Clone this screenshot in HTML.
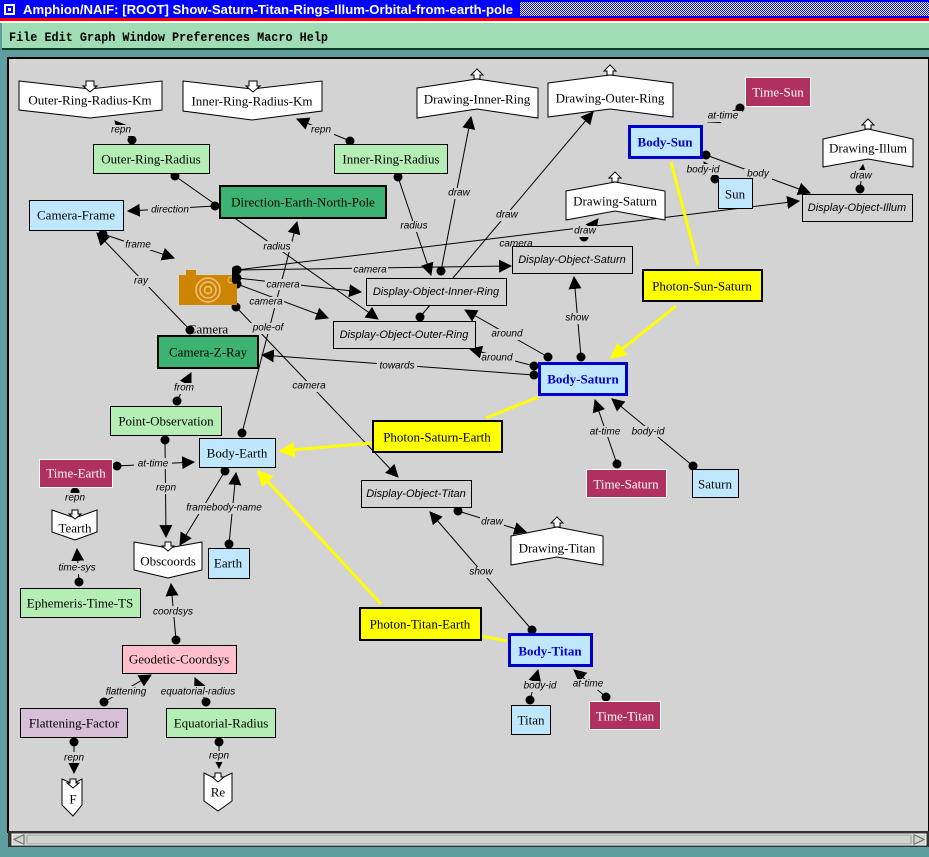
<!DOCTYPE html>
<html><head><meta charset="utf-8"><style>
html,body{margin:0;padding:0;width:929px;height:857px;overflow:hidden;background:#5f9ea0}
svg{display:block}
.n{font-family:"Liberation Serif",serif;font-size:13px;text-anchor:middle;dominant-baseline:central}
.e{font-family:"Liberation Sans",sans-serif;font-size:10px;font-style:italic;text-anchor:middle;dominant-baseline:central}
.l{stroke:#000;stroke-width:1;fill:none;marker-start:url(#dot);marker-end:url(#arr)}
.y{stroke:#ffff00;stroke-width:3;fill:none}
.g{fill:#d3d3d3;stroke:#000}
.lb{fill:#bfe8ff;stroke:#000}
.lg{fill:#b4eeb4;stroke:#000}
.mr{fill:#b03060;stroke:#fff}
.w{fill:#fff;stroke:#000}
</style></head><body>
<svg width="929" height="857" viewBox="0 0 929 857" xmlns="http://www.w3.org/2000/svg">
<defs>
<marker id="dot" viewBox="0 0 10 10" refX="5" refY="5" markerWidth="10" markerHeight="10" markerUnits="userSpaceOnUse"><circle cx="5" cy="5" r="4.5" fill="#000"/></marker>
<marker id="arr" viewBox="0 0 12 12" refX="11" refY="6" markerWidth="13" markerHeight="13" markerUnits="userSpaceOnUse" orient="auto"><path d="M0,0 L12,6 L0,12 Z" fill="#000"/></marker>
<marker id="yarr" viewBox="0 0 12 12" refX="11" refY="6" markerWidth="16" markerHeight="16" markerUnits="userSpaceOnUse" orient="auto"><path d="M0,0 L12,6 L0,12 Z" fill="#ffff00"/></marker>
<pattern id="chk" width="2" height="2" patternUnits="userSpaceOnUse"><rect width="2" height="2" fill="#fff"/><rect width="1" height="1" fill="#0000ff"/><rect x="1" y="1" width="1" height="1" fill="#0000ff"/></pattern>
</defs>
<rect x="0" y="0" width="929" height="18" fill="#0000ff"/>
<rect x="520" y="2" width="409" height="14" fill="url(#chk)"/>
<rect x="4" y="4" width="11" height="11" fill="#fff"/><rect x="6" y="6" width="7" height="7" fill="#0000ff"/><rect x="8" y="8" width="3" height="3" fill="#fff"/>
<text x="23" y="14" font-family="Liberation Sans,sans-serif" font-weight="bold" font-size="13" fill="#fff" textLength="490" lengthAdjust="spacingAndGlyphs">Amphion/NAIF: [ROOT] Show-Saturn-Titan-Rings-Illum-Orbital-from-earth-pole</text>
<rect x="0" y="18" width="929" height="3" fill="#ff0000"/>
<rect x="0" y="21" width="929" height="2" fill="#fff"/>
<rect x="2" y="23" width="927" height="25" fill="#a0dcb4"/>
<rect x="2" y="48" width="927" height="2" fill="#0a3d1e"/>
<text x="9" y="41" font-family="Liberation Mono,monospace" font-weight="bold" font-size="12.5" fill="#000" textLength="319" lengthAdjust="spacingAndGlyphs">File Edit Graph Window Preferences Macro Help</text>
<rect x="8" y="58" width="921" height="774" fill="#d3d3d3" stroke="#000" stroke-width="2"/>
<rect x="8" y="831" width="921" height="16" fill="#333"/>
<rect x="12" y="834" width="914" height="11" fill="#d3d3d3" stroke="#fff"/>
<rect x="27" y="835" width="884" height="9" fill="#d3d3d3" stroke="#999"/>
<path d="M14,839.5 L24,834.5 L24,844.5 Z" fill="#d3d3d3" stroke="#666"/>
<path d="M924,839.5 L914,834.5 L914,844.5 Z" fill="#d3d3d3" stroke="#666"/>

<line class="l" x1="132" y1="140" x2="115" y2="121"/>
<line class="l" x1="350" y1="141" x2="297" y2="119"/>
<line class="l" x1="175" y1="176" x2="378" y2="319"/>
<line class="l" x1="215" y1="206" x2="128" y2="211"/>
<line class="l" x1="398" y1="177" x2="431" y2="275"/>
<line class="l" x1="103" y1="234" x2="174" y2="258"/>
<line class="l" x1="190" y1="330" x2="97" y2="233"/>
<line class="l" x1="237" y1="270" x2="511" y2="266"/>
<line class="l" x1="237" y1="270" x2="799" y2="201"/>
<line class="l" x1="237" y1="278" x2="361" y2="292"/>
<line class="l" x1="237" y1="284" x2="328" y2="318"/>
<line class="l" x1="236" y1="307" x2="398" y2="477"/>
<line class="l" x1="242" y1="433" x2="297" y2="222"/>
<line class="l" x1="441" y1="271" x2="471" y2="117"/>
<line class="l" x1="420" y1="317" x2="593" y2="112"/>
<line class="l" x1="584" y1="237" x2="598" y2="219"/>
<line class="l" x1="548" y1="357" x2="465" y2="310"/>
<line class="l" x1="534" y1="366" x2="470" y2="349"/>
<line class="l" x1="534" y1="375" x2="262" y2="355"/>
<line class="l" x1="581" y1="357" x2="574" y2="277"/>
<line class="l" x1="617" y1="464" x2="595" y2="400"/>
<line class="l" x1="693" y1="466" x2="612" y2="399"/>
<line class="l" x1="706" y1="155" x2="810" y2="193"/>
<line class="l" x1="715" y1="179" x2="704" y2="162"/>
<line class="l" x1="740" y1="108" x2="708" y2="122"/>
<line class="l" x1="860" y1="189" x2="863" y2="165"/>
<line class="l" x1="177" y1="401" x2="191" y2="373"/>
<line class="l" x1="165" y1="440" x2="166" y2="537"/>
<line class="l" x1="117" y1="466" x2="194" y2="462"/>
<line class="l" x1="75" y1="492" x2="75" y2="490"/>
<line class="l" x1="79" y1="582" x2="77" y2="549"/>
<line class="l" x1="225" y1="471" x2="180" y2="545"/>
<line class="l" x1="229" y1="544" x2="236" y2="473"/>
<line class="l" x1="176" y1="640" x2="171" y2="584"/>
<line class="l" x1="104" y1="702" x2="151" y2="675"/>
<line class="l" x1="206" y1="702" x2="195" y2="678"/>
<line class="l" x1="74" y1="742" x2="74" y2="773"/>
<line class="l" x1="219" y1="742" x2="219" y2="768"/>
<line class="l" x1="532" y1="630" x2="430" y2="512"/>
<line class="l" x1="458" y1="511" x2="526" y2="532"/>
<line class="l" x1="530" y1="700" x2="538" y2="670"/>
<line class="l" x1="606" y1="697" x2="574" y2="670"/>
<line class="y" x1="671" y1="162" x2="698" y2="265"/>
<line class="y" x1="676" y1="306" x2="611" y2="358" marker-end="url(#yarr)"/>
<line class="y" x1="538" y1="397" x2="486" y2="418"/>
<line class="y" x1="372" y1="443" x2="280" y2="451" marker-end="url(#yarr)"/>
<line class="y" x1="381" y1="604" x2="258" y2="471" marker-end="url(#yarr)"/>
<line class="y" x1="481" y1="636" x2="507" y2="641"/>

<g class="e">
<rect x="108" y="125" width="26" height="11" fill="#d3d3d3"/><text x="121" y="130">repn</text>
<rect x="308" y="125" width="26" height="11" fill="#d3d3d3"/><text x="321" y="130">repn</text>
<rect x="148" y="205" width="42" height="11" fill="#d3d3d3"/><text x="170" y="210">direction</text>
<rect x="262" y="241" width="30" height="11" fill="#d3d3d3"/><text x="277" y="247">radius</text>
<rect x="399" y="221" width="30" height="11" fill="#d3d3d3"/><text x="414" y="226">radius</text>
<rect x="124" y="239" width="28" height="11" fill="#d3d3d3"/><text x="138" y="245">frame</text>
<rect x="132" y="276" width="18" height="11" fill="#d3d3d3"/><text x="141" y="281">ray</text>
<rect x="352" y="264" width="36" height="11" fill="#d3d3d3"/><text x="370" y="270">camera</text>
<rect x="498" y="239" width="36" height="11" fill="#d3d3d3"/><text x="516" y="244">camera</text>
<rect x="265" y="279" width="36" height="11" fill="#d3d3d3"/><text x="283" y="285">camera</text>
<rect x="248" y="297" width="36" height="11" fill="#d3d3d3"/><text x="266" y="302">camera</text>
<rect x="291" y="381" width="36" height="11" fill="#d3d3d3"/><text x="309" y="386">camera</text>
<rect x="250" y="323" width="36" height="11" fill="#d3d3d3"/><text x="268" y="328">pole-of</text>
<rect x="447" y="188" width="24" height="11" fill="#d3d3d3"/><text x="459" y="193">draw</text>
<rect x="495" y="210" width="24" height="11" fill="#d3d3d3"/><text x="507" y="215">draw</text>
<rect x="573" y="226" width="24" height="11" fill="#d3d3d3"/><text x="585" y="231">draw</text>
<rect x="490" y="329" width="34" height="11" fill="#d3d3d3"/><text x="507" y="334">around</text>
<rect x="481" y="353" width="34" height="11" fill="#d3d3d3"/><text x="497" y="358">around</text>
<rect x="377" y="361" width="40" height="11" fill="#d3d3d3"/><text x="397" y="366">towards</text>
<rect x="564" y="313" width="26" height="11" fill="#d3d3d3"/><text x="577" y="318">show</text>
<rect x="586" y="426" width="38" height="11" fill="#d3d3d3"/><text x="605" y="432">at-time</text>
<rect x="630" y="426" width="36" height="11" fill="#d3d3d3"/><text x="648" y="432">body-id</text>
<rect x="744" y="169" width="28" height="11" fill="#d3d3d3"/><text x="758" y="174">body</text>
<rect x="684" y="164" width="38" height="11" fill="#d3d3d3"/><text x="703" y="170">body-id</text>
<rect x="704" y="111" width="38" height="11" fill="#d3d3d3"/><text x="723" y="116">at-time</text>
<rect x="849" y="170" width="24" height="11" fill="#d3d3d3"/><text x="861" y="176">draw</text>
<rect x="173" y="383" width="22" height="11" fill="#d3d3d3"/><text x="184" y="388">from</text>
<rect x="153" y="483" width="26" height="11" fill="#d3d3d3"/><text x="166" y="488">repn</text>
<rect x="134" y="458" width="38" height="11" fill="#d3d3d3"/><text x="153" y="464">at-time</text>
<rect x="62" y="493" width="26" height="11" fill="#d3d3d3"/><text x="75" y="498">repn</text>
<rect x="57" y="563" width="40" height="11" fill="#d3d3d3"/><text x="77" y="568">time-sys</text>
<rect x="188" y="503" width="72" height="11" fill="#d3d3d3"/><text x="224" y="508">framebody-name</text>
<rect x="152" y="606" width="42" height="11" fill="#d3d3d3"/><text x="173" y="612">coordsys</text>
<rect x="104" y="686" width="44" height="11" fill="#d3d3d3"/><text x="126" y="692">flattening</text>
<rect x="160" y="686" width="76" height="11" fill="#d3d3d3"/><text x="198" y="692">equatorial-radius</text>
<rect x="62" y="752" width="24" height="11" fill="#d3d3d3"/><text x="74" y="758">repn</text>
<rect x="207" y="751" width="24" height="11" fill="#d3d3d3"/><text x="219" y="756">repn</text>
<rect x="468" y="567" width="26" height="11" fill="#d3d3d3"/><text x="481" y="572">show</text>
<rect x="480" y="517" width="24" height="11" fill="#d3d3d3"/><text x="492" y="522">draw</text>
<rect x="521" y="681" width="38" height="11" fill="#d3d3d3"/><text x="540" y="686">body-id</text>
<rect x="570" y="679" width="36" height="11" fill="#d3d3d3"/><text x="588" y="684">at-time</text>
</g>

<path class="w" d="M19,81 L90,89 L162,81 L162,110 L90,118 L19,110 Z"/>
<path d="M86,81 h8 v5 h3 l-7,6 l-7,-6 h3 Z" fill="#fff" stroke="#000"/>
<text class="n" x="90" y="100">Outer-Ring-Radius-Km</text>
<path class="w" d="M183,81 L252,89 L322,81 L322,111 L252,120 L183,111 Z"/>
<path d="M249,81 h8 v5 h3 l-7,6 l-7,-6 h3 Z" fill="#fff" stroke="#000"/>
<text class="n" x="252" y="101">Inner-Ring-Radius-Km</text>
<path class="w" d="M52,510 L75,518 L97,510 L97,532 L75,540 L52,532 Z"/>
<path d="M72,510 h6 v4 h3 l-6,5 l-6,-5 h3 Z" fill="#fff" stroke="#000"/>
<text class="n" x="75" y="528">Tearth</text>
<path class="w" d="M134,542 L168,548 L202,542 L202,570 L168,578 L134,570 Z"/>
<path d="M165,542 h6 v4 h3 l-6,5 l-6,-5 h3 Z" fill="#fff" stroke="#000"/>
<text class="n" x="168" y="561">Obscoords</text>
<path class="w" d="M62,779 L73,784 L82,779 L82,805 L73,816 L62,805 Z"/>
<path d="M70,779 h6 v4 h3 l-6,5 l-6,-5 h3 Z" fill="#fff" stroke="#000"/>
<text class="n" x="73" y="799">F</text>
<path class="w" d="M204,773 L218,780 L232,773 L232,801 L218,811 L204,801 Z"/>
<path d="M215,773 h6 v4 h3 l-6,5 l-6,-5 h3 Z" fill="#fff" stroke="#000"/>
<text class="n" x="218" y="792">Re</text>
<path class="w" d="M417,88 L477,79 L538,88 L538,118 L477,109 L417,118 Z"/>
<path d="M474,79 v-4 h-3 l6,-6 l6,6 h-3 v4 Z" fill="#fff" stroke="#000"/>
<text class="n" x="477" y="99">Drawing-Inner-Ring</text>
<path class="w" d="M548,83 L610,75 L673,83 L673,117 L610,109 L548,117 Z"/>
<path d="M607,75 v-4 h-3 l6,-6 l6,6 h-3 v4 Z" fill="#fff" stroke="#000"/>
<text class="n" x="610" y="98">Drawing-Outer-Ring</text>
<path class="w" d="M823,139 L868,129 L913,139 L913,167 L868,159 L823,167 Z"/>
<path d="M865,129 v-4 h-3 l6,-6 l6,6 h-3 v4 Z" fill="#fff" stroke="#000"/>
<text class="n" x="868" y="148">Drawing-Illum</text>
<path class="w" d="M566,191 L615,182 L665,191 L665,220 L615,211 L566,220 Z"/>
<path d="M612,182 v-4 h-3 l6,-6 l6,6 h-3 v4 Z" fill="#fff" stroke="#000"/>
<text class="n" x="615" y="201">Drawing-Saturn</text>
<path class="w" d="M511,536 L557,527 L603,536 L603,565 L557,557 L511,565 Z"/>
<path d="M554,527 v-4 h-3 l6,-6 l6,6 h-3 v4 Z" fill="#fff" stroke="#000"/>
<text class="n" x="557" y="548">Drawing-Titan</text>

<rect class="mr" x="745.5" y="77.5" width="65" height="29"/><text class="n" x="778" y="92" fill="#fff">Time-Sun</text>
<rect x="629.5" y="126.5" width="72" height="31" fill="#bfe8ff" stroke="#0000cc" stroke-width="3"/><text class="n" x="665" y="142" fill="#0000cc" font-weight="bold">Body-Sun</text>
<rect class="lb" x="718.5" y="178.5" width="34" height="30"/><text class="n" x="735" y="194">Sun</text>
<rect class="g" x="802.5" y="194.5" width="110" height="27"/><text class="e" x="857" y="208" style="font-size:11px">Display-Object-Illum</text>
<rect class="lg" x="93.5" y="144.5" width="116" height="29"/><text class="n" x="151" y="159">Outer-Ring-Radius</text>
<rect class="lg" x="334.5" y="144.5" width="113" height="29"/><text class="n" x="391" y="159">Inner-Ring-Radius</text>
<rect x="220" y="186" width="166" height="32" fill="#3cb371" stroke="#000" stroke-width="2"/><text class="n" x="303" y="202">Direction-Earth-North-Pole</text>
<rect class="lb" x="29.5" y="200.5" width="94" height="30"/><text class="n" x="76" y="215">Camera-Frame</text>
<rect class="g" x="512.5" y="246.5" width="120" height="27"/><text class="e" x="572" y="260" style="font-size:11px">Display-Object-Saturn</text>
<rect class="g" x="366.5" y="278.5" width="140" height="27"/><text class="e" x="436" y="292" style="font-size:11px">Display-Object-Inner-Ring</text>
<rect class="g" x="333.5" y="321.5" width="142" height="27"/><text class="e" x="404" y="335" style="font-size:11px">Display-Object-Outer-Ring</text>
<rect x="643" y="270" width="119" height="31" fill="#ffff00" stroke="#000" stroke-width="2"/><text class="n" x="702" y="286">Photon-Sun-Saturn</text>
<rect x="158" y="336" width="100" height="32" fill="#3cb371" stroke="#000" stroke-width="2"/><text class="n" x="208" y="352">Camera-Z-Ray</text>
<text class="n" x="208" y="329">Camera</text>
<rect x="539.5" y="363.5" width="87" height="31" fill="#bfe8ff" stroke="#0000cc" stroke-width="3"/><text class="n" x="583" y="379" fill="#0000cc" font-weight="bold">Body-Saturn</text>
<rect class="lg" x="110.5" y="406.5" width="111" height="29"/><text class="n" x="166" y="421">Point-Observation</text>
<rect x="373" y="421" width="129" height="31" fill="#ffff00" stroke="#000" stroke-width="2"/><text class="n" x="437" y="437">Photon-Saturn-Earth</text>
<rect class="lb" x="199.5" y="438.5" width="76" height="29"/><text class="n" x="237" y="453">Body-Earth</text>
<rect class="mr" x="39.5" y="459.5" width="73" height="28"/><text class="n" x="76" y="473" fill="#fff">Time-Earth</text>
<rect class="mr" x="586.5" y="469.5" width="80" height="28"/><text class="n" x="626" y="484" fill="#fff">Time-Saturn</text>
<rect class="lb" x="692.5" y="469.5" width="46" height="28"/><text class="n" x="715" y="484">Saturn</text>
<rect class="g" x="361.5" y="480.5" width="110" height="27"/><text class="e" x="416" y="494" style="font-size:11px">Display-Object-Titan</text>
<rect class="lb" x="208.5" y="548.5" width="41" height="30"/><text class="n" x="228" y="563">Earth</text>
<rect class="lg" x="20.5" y="588.5" width="120" height="29"/><text class="n" x="80" y="603">Ephemeris-Time-TS</text>
<rect x="360" y="608" width="121" height="32" fill="#ffff00" stroke="#000" stroke-width="2"/><text class="n" x="420" y="624">Photon-Titan-Earth</text>
<rect x="509.5" y="634.5" width="82" height="31" fill="#bfe8ff" stroke="#0000cc" stroke-width="3"/><text class="n" x="550" y="651" fill="#0000cc" font-weight="bold">Body-Titan</text>
<rect x="122.5" y="645.5" width="114" height="28" fill="#ffc0cb" stroke="#000"/><text class="n" x="179" y="659">Geodetic-Coordsys</text>
<rect class="lb" x="511.5" y="705.5" width="39" height="29"/><text class="n" x="531" y="720">Titan</text>
<rect class="mr" x="589.5" y="701.5" width="71" height="28"/><text class="n" x="625" y="716" fill="#fff">Time-Titan</text>
<rect x="20.5" y="708.5" width="107" height="29" fill="#d8bfd8" stroke="#000"/><text class="n" x="74" y="723">Flattening-Factor</text>
<rect class="lg" x="166.5" y="708.5" width="109" height="29"/><text class="n" x="221" y="723">Equatorial-Radius</text>

<rect x="179" y="275" width="58" height="30" fill="#cd8500"/>
<rect x="186" y="270" width="10" height="6" fill="#cd8500"/>
<circle cx="208" cy="290" r="12" fill="none" stroke="#f0c080" stroke-width="1.5"/>
<circle cx="208" cy="290" r="8" fill="none" stroke="#f0c080" stroke-width="1.5"/>
<circle cx="208" cy="290" r="3.5" fill="none" stroke="#f0c080" stroke-width="1.5"/>
<circle cx="231" cy="280" r="3" fill="none" stroke="#f0c080"/>
<rect x="232" y="266" width="6" height="18" rx="3" fill="#000"/>
</svg>
</body></html>
